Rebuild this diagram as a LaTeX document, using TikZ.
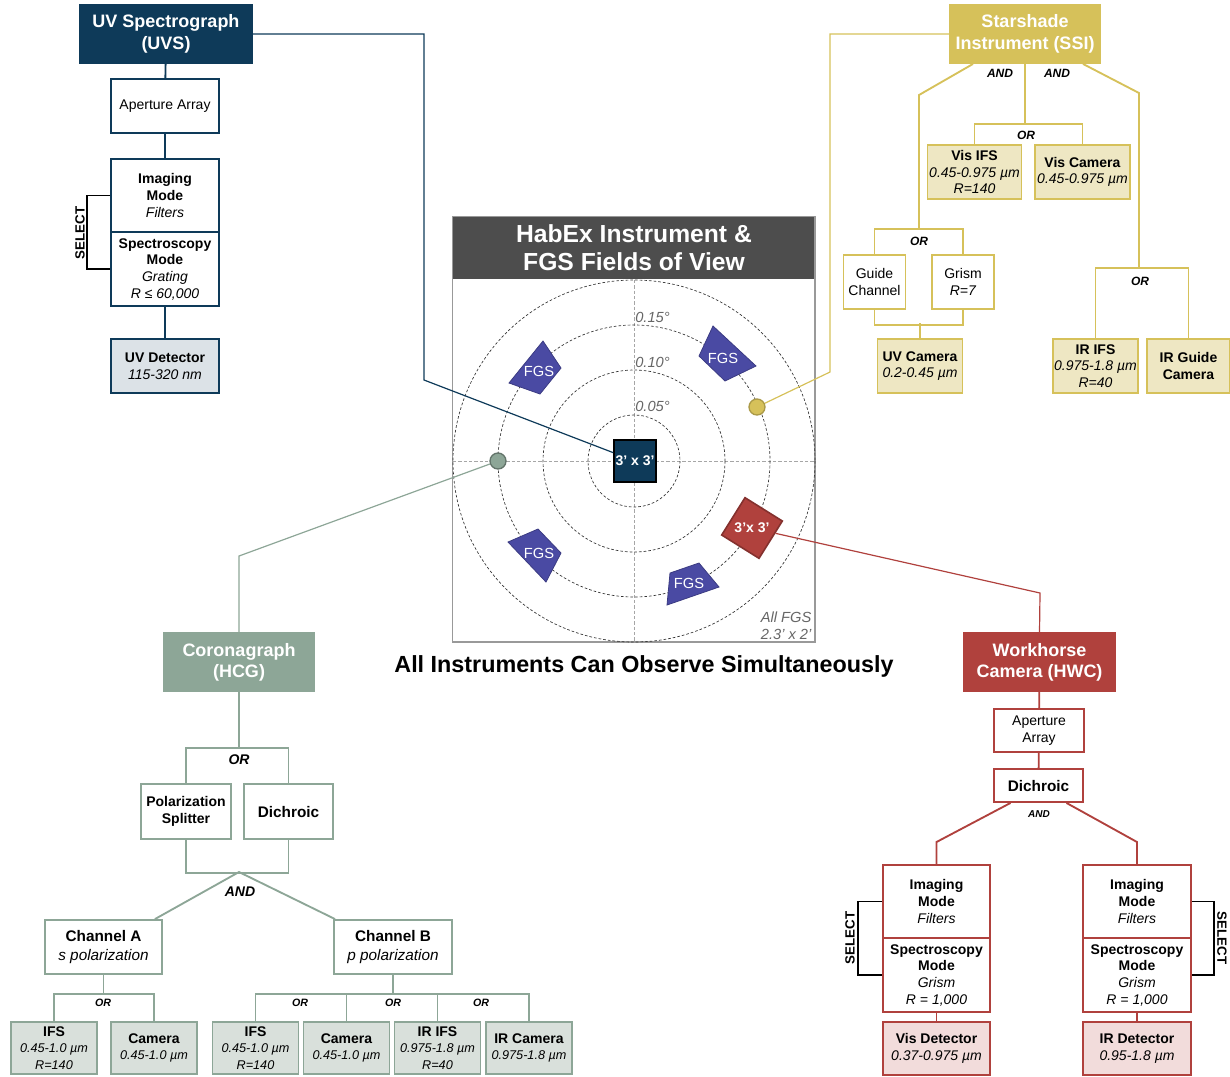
\documentclass[tikz,border=0pt]{standalone}
\usepackage{fontspec}
\setmainfont{Liberation Sans}
\usepackage{tikz}
\usetikzlibrary{calc}
\definecolor{uvsnavy}{HTML}{0E3A59}
\definecolor{uvspale}{HTML}{DCE2E7}
\definecolor{ssigold}{HTML}{D6C15A}
\definecolor{ssipale}{HTML}{EEE7C3}
\definecolor{hcggreen}{HTML}{8DA697}
\definecolor{hcgpale}{HTML}{D9E0DB}
\definecolor{hwcred}{HTML}{B0413D}
\definecolor{hwcpale}{HTML}{F2DCDB}
\definecolor{fgsblue}{HTML}{4A4AA3}
\definecolor{fovgray}{HTML}{4D4D4D}
\tikzset{sz/.style 2 args={minimum width=#1*0.75pt, minimum height=#2*0.75pt}}

\begin{document}
\begin{tikzpicture}[
    x=0.75pt, y=-0.75pt,
    font=\fontsize{10.5}{12.5}\selectfont,
    box/.style={draw, line width=1.4pt, fill=white, align=center, inner sep=0.5pt},
    head/.style={box, text=white, font=\fontsize{13.5}{16}\selectfont\bfseries},
    tree/.style={line width=1.4pt},
    link/.style={line width=0.9pt},
    logic/.style={inner sep=0pt, font=\fontsize{9}{10}\selectfont\bfseries\itshape},
    selectlbl/.style={inner sep=0pt, font=\fontsize{10}{11}\selectfont\bfseries},
    ring/.style={dash pattern=on 2pt off 1.5pt, line width=0.5pt, black!80},
    cross/.style={dash pattern=on 2.5pt off 1.5pt, line width=0.5pt, black!35},
    fgs/.style={fill=fgsblue, draw=fgsblue!80!black, line width=0.6pt},
    fgslbl/.style={text=white, inner sep=0pt, font=\fontsize{11}{12}\selectfont},
    fov/.style={line width=1.2pt, text=white, inner sep=0pt, font=\fontsize{10.5}{12}\selectfont\bfseries},
    dot/.style={circle, draw, line width=1pt, minimum size=12pt, inner sep=0pt},
]
\useasboundingbox (0,0) rectangle (1230,1076);

% Fields of view
\coordinate (fovc) at (634,461);
\coordinate (fovse) at (815,642);
\node[fill=fovgray, text=white, sz={362}{62}, align=center, inner sep=0pt,
      font=\fontsize{18.5}{21}\selectfont\bfseries] (fovtitle) at (634,248) {HabEx Instrument \&\\FGS Fields of View};
\draw[black!40, line width=0.8pt] (fovtitle.north west) rectangle (fovse);
\draw[cross] (634,280) -- (634,642);
\draw[cross] (453,461) -- (815,461);
\foreach \r in {46,91,136,181}
    \draw[ring] (fovc) circle[radius=\r];
\foreach \yy/\lab [count=\k] in {317/0.15,362/0.10,406/0.05}
    \node[anchor=west, inner sep=0pt, text=black!60, font=\fontsize{11}{12}\selectfont\itshape] (rlbl\k) at (635,\yy) {\lab°};

% FGS apertures
\filldraw[fgs] (543,341) -- (561,368) -- (540,394) -- (509,383) -- cycle;
\filldraw[fgs] (713,326) -- (756,366) -- (725,381) -- (699,356) -- cycle;
\filldraw[fgs] (508,542) -- (538,529) -- (561,553) -- (546,582) -- cycle;
\filldraw[fgs] (670,573) -- (699,563) -- (719,587) -- (667,605) -- cycle;
\node[fgslbl] (fgs1) at (539,371) {FGS};
\node[fgslbl] (fgs2) at (723,358) {FGS};
\node[fgslbl] (fgs3) at (539,553) {FGS};
\node[fgslbl] (fgs4) at (689,583) {FGS};
\node[anchor=south east, align=right, inner sep=1pt, text=black!60,
      font=\fontsize{11}{12.5}\selectfont\itshape] (fgsnote) at (813,641) {All FGS\\2.3’ x 2’};

% Instrument apertures
\node[fov, draw=black, fill=uvsnavy, sz={42}{42}] (sq) at (635,461) {3’ x 3’};
\node[fov, draw=hwcred!75!black, fill=hwcred, sz={44}{44}, rotate=-32] (rsq) at (752,528) {};
\node[fov] (rsqlbl) at (rsq) {3’x 3’};
\node[dot, fill=hcggreen, draw=hcggreen!70!black] (gdot) at (498,461) {};
\node[dot, fill=ssigold, draw=ssigold!80!black] (ydot) at (757,407) {};

\node[font=\fontsize{17.5}{20}\selectfont\bfseries] (alltitle) at (644,666) {All Instruments Can Observe Simultaneously};

% UV Spectrograph
\node[head, fill=uvsnavy, draw=uvsnavy, sz={172}{58}] (uvs) at (166,34) {UV Spectrograph\\(UVS)};
\node[box, draw=uvsnavy, sz={108}{54}] (uvsap) at (165,106) {Aperture Array};
\node[box, draw=uvsnavy, sz={108}{73}] (uvsimg) at (165,195.5) {\textbf{Imaging}\\\textbf{Mode}\\\textit{Filters}};
\node[box, draw=uvsnavy, sz={108}{74}] (uvsspec) at (165,269) {\textbf{Spectroscopy}\\\textbf{Mode}\\\textit{Grating}\\\textit{R ≤ 60,000}};
\node[box, draw=uvsnavy, fill=uvspale, sz={108}{54}] (uvsdet) at (165,366) {\textbf{UV Detector}\\\textit{115-320 nm}};
\draw[tree, uvsnavy] (uvs) -- (uvsap) (uvsap) -- (uvsimg) (uvsspec) -- (uvsdet);
\draw[line width=1.2pt] (uvsimg.west) -- ++(-23,0) |- (uvsspec.west);
\node[selectlbl, rotate=90] (uvssel) at (80,233) {SELECT};

% Starshade Instrument
\node[head, fill=ssigold, draw=ssigold, sz={150}{58}] (ssi) at (1025,34) {Starshade\\Instrument (SSI)};
\node[box, draw=ssigold, fill=ssipale, sz={94}{54}] (visifs) at (974.5,172) {\textbf{Vis IFS}\\\textit{0.45-0.975 µm}\\\textit{R=140}};
\node[box, draw=ssigold, fill=ssipale, sz={95}{54}] (viscam) at (1082.5,172) {\textbf{Vis Camera}\\\textit{0.45-0.975 µm}};
\node[box, draw=ssigold, sz={62}{54}] (guide) at (874.5,282) {Guide\\Channel};
\node[box, draw=ssigold, sz={62}{54}] (grism) at (963,282) {Grism\\\textit{R=7}};
\node[box, draw=ssigold, fill=ssipale, sz={85}{54}] (uvcam) at (920,366) {\textbf{UV Camera}\\\textit{0.2-0.45 µm}};
\node[box, draw=ssigold, fill=ssipale, sz={85}{54}] (irifs) at (1095.5,366) {\textbf{IR IFS}\\\textit{0.975-1.8 µm}\\\textit{R=40}};
\node[box, draw=ssigold, fill=ssipale, sz={83}{54}] (irguide) at (1188.5,366) {\textbf{IR Guide}\\\textbf{Camera}};
\coordinate (ssiL) at (919,95);
\coordinate (ssiR) at (1139,93);
\draw[tree, ssigold] (visifs.north) -- ++(0,-20) coordinate (ssimid) -| (viscam.north);
\draw[tree, ssigold] (ssi.south) -- (ssi.south |- ssimid);
\draw[tree, ssigold] (guide.north) -- ++(0,-25) coordinate (ssileft) -| (grism.north);
\draw[tree, ssigold] ($(ssi.south)+(-52,0)$) -- (ssiL) -- (ssiL |- ssileft);
\draw[tree, ssigold] (irifs.north) -- ++(0,-70) coordinate (ssiright) -| (irguide.north);
\draw[tree, ssigold] ($(ssi.south)+(58,0)$) -- (ssiR) -- (ssiR |- ssiright);
\draw[tree, ssigold] (guide.south) -- ++(0,15) -| (grism.south);
\draw[tree, ssigold] (uvcam.north) -- ++(0,-15);
\node[logic] (ssiand1) at (1000,73) {AND};
\node[logic] (ssiand2) at (1057,73) {AND};
\node[logic] (ssior1) at (1026,135) {OR};
\node[logic] (ssior2) at (919,241) {OR};
\node[logic] (ssior3) at (1140,281) {OR};

% Coronagraph
\node[head, fill=hcggreen, draw=hcggreen, sz={150}{58}] (hcg) at (239,662) {Coronagraph\\(HCG)};
\node[box, draw=hcggreen, sz={90}{55}] (polsp) at (186,811.5) {\textbf{Polarization}\\\textbf{Splitter}};
\node[box, draw=hcggreen, sz={89}{55}] (hcgdi) at (288.5,811.5) {\fontsize{11.5}{13}\selectfont\bfseries Dichroic};
\node[box, draw=hcggreen, sz={117}{54}, font=\fontsize{11.5}{14.3}\selectfont] (chA) at (103.5,947) {\textbf{Channel A}\\\textit{s polarization}};
\node[box, draw=hcggreen, sz={118}{54}, font=\fontsize{11.5}{14.3}\selectfont] (chB) at (393,947) {\textbf{Channel B}\\\textit{p polarization}};
\def\sm{\fontsize{9.5}{12}\selectfont}
\node[box, draw=hcggreen, fill=hcgpale, sz={86}{52}] (ifsA) at (54,1048) {\textbf{IFS}\\\sm\textit{0.45-1.0 µm}\\\sm\textit{R=140}};
\node[box, draw=hcggreen, fill=hcgpale, sz={86}{52}] (camA) at (154,1048) {\textbf{Camera}\\\sm\textit{0.45-1.0 µm}};
\node[box, draw=hcggreen, fill=hcgpale, sz={86}{52}] (ifsB) at (255.5,1048) {\textbf{IFS}\\\sm\textit{0.45-1.0 µm}\\\sm\textit{R=140}};
\node[box, draw=hcggreen, fill=hcgpale, sz={86}{52}] (camB) at (346.5,1048) {\textbf{Camera}\\\sm\textit{0.45-1.0 µm}};
\node[box, draw=hcggreen, fill=hcgpale, sz={86}{52}] (irifsB) at (437.5,1048) {\textbf{IR IFS}\\\sm\textit{0.975-1.8 µm}\\\sm\textit{R=40}};
\node[box, draw=hcggreen, fill=hcgpale, sz={86}{52}] (ircamB) at (529,1048) {\textbf{IR Camera}\\\sm\textit{0.975-1.8 µm}};
\coordinate (hcgj) at (239,872);
\draw[tree, hcggreen] (polsp.north) -- ++(0,-35) coordinate (hcgor) -| (hcgdi.north);
\draw[tree, hcggreen] (hcg.south) -- (hcg.south |- hcgor);
\draw[tree, hcggreen] (polsp.south) -- ++(0,33) -| (hcgdi.south);
\draw[tree, hcggreen] ($(chA.north east)+(-8,0)$) -- (hcgj) -- ($(chB.north west)+(2,0)$);
\draw[tree, hcggreen] (ifsA.north) -- ++(0,-27) coordinate (chAor) -| (camA.north);
\draw[tree, hcggreen] (chA.south) -- (chA.south |- chAor);
\draw[tree, hcggreen] (ifsB.north) -- ++(0,-27) coordinate (chBor) -| (ircamB.north);
\draw[tree, hcggreen] (camB.north) -- (camB.north |- chBor);
\draw[tree, hcggreen] (irifsB.north) -- (irifsB.north |- chBor);
\draw[tree, hcggreen] (chB.south) -- (chB.south |- chBor);
\node[logic, font=\fontsize{10.5}{12}\selectfont\bfseries\itshape] (hcgor1) at (239,760) {OR};
\node[logic, font=\fontsize{10.5}{12}\selectfont\bfseries\itshape] (hcgand) at (240,892) {AND};
\foreach \xx [count=\k] in {103,300,393,481}
    \node[logic, font=\fontsize{8}{9}\selectfont\bfseries\itshape] (chor\k) at (\xx,1003) {OR};

% Workhorse Camera
\node[head, fill=hwcred, draw=hwcred, sz={151}{58}] (hwc) at (1039.5,662) {Workhorse\\Camera (HWC)};
\node[box, draw=hwcred, sz={90}{43}] (hwcap) at (1039,730.5) {Aperture\\Array};
\node[box, draw=hwcred, sz={89}{33}] (hwcdi) at (1038.5,785.5) {\fontsize{11.5}{13}\selectfont\bfseries Dichroic};
\node[box, draw=hwcred, sz={107}{73}] (imgL) at (936.5,901.5) {\textbf{Imaging}\\\textbf{Mode}\\\textit{Filters}};
\node[box, draw=hwcred, sz={107}{74}] (specL) at (936.5,975) {\textbf{Spectroscopy}\\\textbf{Mode}\\\textit{Grism}\\\textit{R = 1,000}};
\node[box, draw=hwcred, sz={108}{73}] (imgR) at (1137,901.5) {\textbf{Imaging}\\\textbf{Mode}\\\textit{Filters}};
\node[box, draw=hwcred, sz={108}{74}] (specR) at (1137,975) {\textbf{Spectroscopy}\\\textbf{Mode}\\\textit{Grism}\\\textit{R = 1,000}};
\node[box, draw=hwcred, fill=hwcpale, sz={107}{53}] (visdet) at (936.5,1048.5) {\textbf{Vis Detector}\\\textit{0.37-0.975 µm}};
\node[box, draw=hwcred, fill=hwcpale, sz={108}{53}] (irdet) at (1137,1048.5) {\textbf{IR Detector}\\\textit{0.95-1.8 µm}};
\coordinate (hwcbl) at (936.5,842);
\coordinate (hwcbr) at (1137,842);
\draw[tree, hwcred] (hwc) -- (hwcap) (hwcap) -- (hwcdi);
\draw[tree, hwcred] ($(hwcdi.south)+(-28,0)$) -- (hwcbl) -- (imgL.north);
\draw[tree, hwcred] ($(hwcdi.south)+(28,0)$) -- (hwcbr) -- (imgR.north);
\draw[tree, hwcred] (specL) -- (visdet) (specR) -- (irdet);
\node[logic, font=\fontsize{7.5}{9}\selectfont\bfseries\itshape] (hwcand) at (1039,814) {AND};
\draw[line width=1.2pt] (imgL.west) -- ++(-24,0) |- (specL.west);
\node[selectlbl, rotate=90] (hwcsel1) at (850,938) {SELECT};
\draw[line width=1.2pt] (imgR.east) -- ++(22,0) |- (specR.east);
\node[selectlbl, rotate=-90] (hwcsel2) at (1222,938) {SELECT};

% Leader lines to the fields of view
\coordinate (uvsbend) at (424,380);
\coordinate (ssibend) at (830,372);
\coordinate (hcgbend) at (239,556);
\coordinate (hwcbend) at (1040,593);
\draw[link, uvsnavy] (uvs.east) -| (uvsbend) -- (sq);
\draw[link, ssigold] (ssi.west) -| (ssibend) -- (ydot);
\draw[link, hcggreen] (hcg.north) -- (hcgbend) -- (gdot);
\draw[link, hwcred] (hwc.north) -- (hwcbend) -- (rsq);

\end{tikzpicture}
\end{document}
